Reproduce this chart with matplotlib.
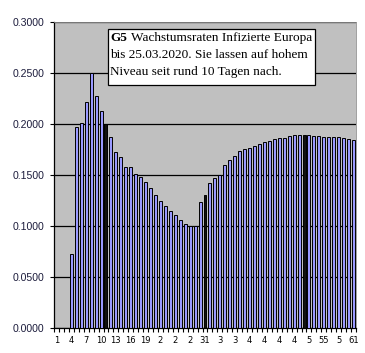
import matplotlib
matplotlib.use("Agg")
import matplotlib.pyplot as plt
import numpy as np
from matplotlib.patches import Rectangle

# day index 1..61 and growth rate per day
days = list(range(1, 62))
rates = [
    0.0, 0.0, 0.0, 0.0722, 0.1965, 0.2006, 0.2209, 0.2500, 0.2275, 0.2127,
    0.2000, 0.1866, 0.1722, 0.1675, 0.1575, 0.1575, 0.1510, 0.1477, 0.1425, 0.1370,
    0.1304, 0.1245, 0.1196, 0.1147, 0.1108, 0.1059, 0.1020, 0.0995, 0.0995, 0.1234,
    0.1304, 0.1420, 0.1466, 0.1496, 0.1598, 0.1647, 0.1680, 0.1735, 0.1755, 0.1761,
    0.1778, 0.1804, 0.1820, 0.1834, 0.1851, 0.1860, 0.1860, 0.1876, 0.1886, 0.1886,
    0.1892, 0.1886, 0.1880, 0.1876, 0.1873, 0.1870, 0.1873, 0.1870, 0.1860, 0.1850,
    0.1836,
]
# labels as they appear (clipped in the original)
xtick_pos = list(range(1, 62, 3))
xtick_labels = ["1", "4", "7", "10", "13", "16", "19", "2", "2", "2", "31",
                "3", "3", "4", "4", "4", "4", "5", "55", "5", "61"]
yticks = [0.0, 0.05, 0.10, 0.15, 0.20, 0.25, 0.30]

title_bold = "G5"
title_lines = ["Wachstumsraten Infizierte Europa",
               "bis 25.03.2020. Sie lassen auf hohem",
               "Niveau seit rund 10 Tagen nach."]

W, H = 365, 353
fig = plt.figure(figsize=(W / 100, H / 100), dpi=100)
ax = fig.add_axes([54 / W, 25 / H, 302 / W, 306.5 / H])
ax.set_facecolor("#c0c0c0")

colors = ["#111111" if (d - 11) % 20 == 0 else "#9999ff" for d in days]
ax.bar(days, rates, width=0.6, color=colors, edgecolor="black", linewidth=0.7, zorder=3)

ax.set_xlim(0.5, 61.5)
ax.set_ylim(0, 0.3)
ax.set_yticks(yticks)
ax.set_yticklabels([f"{v:.4f}" for v in yticks], fontsize=7.6,
                   family="Liberation Sans", color="#1c1c3c")
ax.set_xticks(xtick_pos)
ax.set_xticklabels(xtick_labels, fontsize=6, family="DejaVu Sans")
ax.set_xticks(np.arange(0.5, 62, 1), minor=True)
ax.tick_params(axis="x", which="major", length=0, pad=6)
ax.tick_params(axis="x", which="minor", length=3, width=0.8)
ax.tick_params(axis="y", length=3, width=0.8, pad=4)

ax.yaxis.grid(True, color="black", linewidth=0.9, zorder=1)
ax.set_axisbelow(True)
for side in ("top", "right"):
    ax.spines[side].set_color("#909090")
    ax.spines[side].set_linewidth(0.6)
for side in ("left", "bottom"):
    ax.spines[side].set_linewidth(0.9)

# annotation box
box = Rectangle((107.5 / W, (H - 85) / H), 208 / W, 56.5 / H, transform=fig.transFigure,
                facecolor="white", edgecolor="black", linewidth=0.9, zorder=5)
fig.add_artist(box)
line_y = [37.7, 54.5, 71.5]
fs = 9.5
fig.text(110 / W, 1 - line_y[0] / H, title_bold, fontsize=fs, fontweight="bold",
         family="Liberation Serif", va="center", zorder=6)
fig.text(131 / W, 1 - line_y[0] / H, title_lines[0], fontsize=fs,
         family="Liberation Serif", va="center", zorder=6)
for txt, yy in zip(title_lines[1:], line_y[1:]):
    fig.text(110 / W, 1 - yy / H, txt, fontsize=fs, family="Liberation Serif",
             va="center", zorder=6)

fig.savefig("out.png", dpi=100)
